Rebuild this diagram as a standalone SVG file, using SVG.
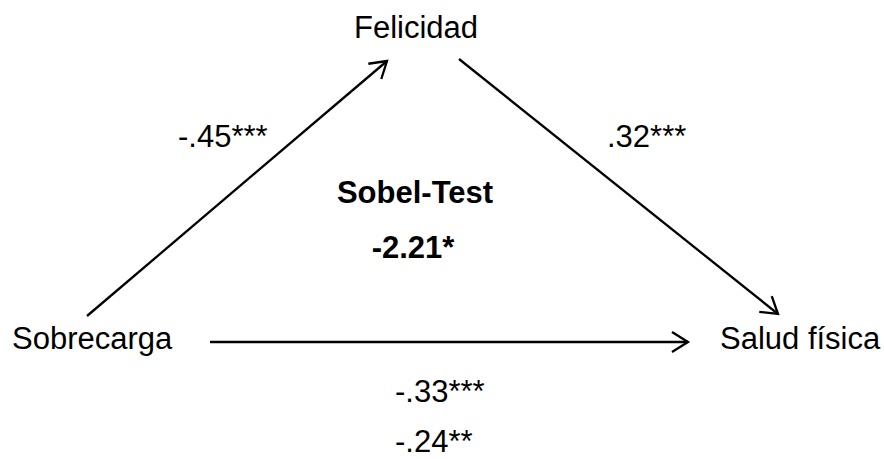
<svg xmlns="http://www.w3.org/2000/svg" width="884" height="459" viewBox="0 0 884 459">
<style>
text{font-family:"Liberation Sans",Arial,sans-serif;font-size:31px;fill:#000}
.b{font-weight:bold}
.c{stroke:#000;stroke-width:2.3;fill:none}
</style>
<defs>
<marker id="ah" markerUnits="userSpaceOnUse" markerWidth="40" markerHeight="40" viewBox="-20 -20 40 40" refX="0" refY="0" orient="auto">
<path d="M-16,-10 L0,0 L-16,10" fill="none" stroke="#000" stroke-width="2.3"/>
</marker>
</defs>
<rect width="884" height="459" fill="#fff"/>
<g id="connectors">
<line class="c" x1="87" y1="316" x2="387" y2="61" marker-end="url(#ah)"/>
<line class="c" x1="459" y1="59" x2="778" y2="314" marker-end="url(#ah)"/>
<line class="c" x1="210" y1="342" x2="688" y2="342" marker-end="url(#ah)"/>
</g>
<g id="felicidad"><text x="416" y="38" text-anchor="middle">Felicidad</text></g>
<g id="sobrecarga"><text x="12" y="349">Sobrecarga</text></g>
<g id="salud"><text x="720" y="349">Salud física</text></g>
<g id="labels">
<text x="178" y="147">-.45***</text>
<text x="607" y="147">.32***</text>
<text class="b" x="415" y="203" text-anchor="middle">Sobel-Test</text>
<text class="b" x="413" y="258" text-anchor="middle">-2.21*</text>
<text x="395" y="402">-.33***</text>
<text x="395" y="452">-.24**</text>
</g>
</svg>
